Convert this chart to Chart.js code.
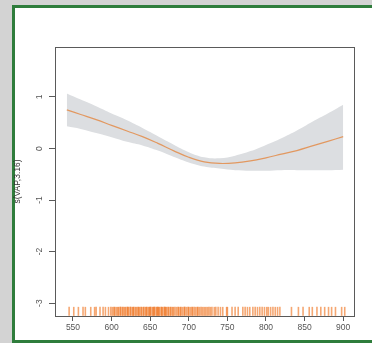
<!DOCTYPE html>
<html>
<head>
<meta charset="utf-8">
<script src="https://cdn.jsdelivr.net/npm/chart.js@4/dist/chart.umd.min.js"></script>
<style>
  html, body { margin: 0; padding: 0; }
  body { width: 372px; height: 343px; background: #d3d3d3; position: relative; overflow: hidden; }
  #frame {
    position: absolute; left: 12px; top: 5px; width: 380px; height: 332px;
    border: 3px solid #2f7d3c; border-right: none; background: #fff;
  }
  #wrap { position: absolute; left: 0; top: 0; width: 372px; height: 343px; }
</style>
</head>
<body>
<div id="frame"></div>
<div id="wrap"><canvas id="smoothPlot"></canvas></div>
<script>
// smooth term s(VAP,3.16) with confidence band
var vap = [542, 560, 580, 600, 620, 640, 660, 680, 700, 720, 740, 760, 780, 800, 820, 840, 860, 880, 900];
var fit = [0.75, 0.66, 0.56, 0.45, 0.34, 0.23, 0.10, -0.04, -0.17, -0.26, -0.29, -0.28, -0.24, -0.18, -0.11, -0.04, 0.05, 0.14, 0.23];
var upper = [1.07, 0.95, 0.82, 0.68, 0.55, 0.40, 0.24, 0.08, -0.07, -0.17, -0.19, -0.14, -0.05, 0.07, 0.20, 0.35, 0.52, 0.68, 0.85];
var lower = [0.43, 0.38, 0.30, 0.22, 0.13, 0.06, -0.04, -0.16, -0.27, -0.35, -0.39, -0.42, -0.43, -0.43, -0.42, -0.42, -0.42, -0.42, -0.41];

// observed VAP values (rug)
var rug = [545, 551, 557, 563, 566, 573, 578, 580, 585, 589, 592, 596,
  599, 601, 603, 604, 606, 608, 609, 611, 612, 614, 615, 617, 618, 620, 621, 622, 624, 625, 627, 628, 629,
  631, 632, 634, 635, 636, 638, 639, 641, 642, 644, 645, 646, 648, 649, 650, 651, 653, 654, 655, 656, 658,
  659, 660, 661, 662, 664, 665, 666, 668, 669, 670, 671, 673, 674, 676, 677, 679, 680, 682, 684, 686, 687,
  689, 690, 692, 694, 695, 697, 699, 700, 702, 704, 705, 707, 709, 711, 712, 714, 716, 718, 720, 722, 724,
  726, 728, 730, 733, 735, 738, 741, 744, 749, 750,
  756, 760, 764, 770, 773, 776, 779, 783, 786, 789, 792, 795, 798, 801, 803, 806, 809, 812, 815, 818,
  833, 842, 848, 856, 860, 866, 871, 876, 881, 885, 890, 898, 902];

var xTicks = [550, 600, 650, 700, 750, 800, 850, 900];
var yTicks = [-3, -2, -1, 0, 1];
var yTitle = 's(VAP,3.16)';
var rugLevel = -3.16;

function pairs(xs, ys) {
    var out = [];
    for (var i = 0; i < xs.length; i++) {
        out.push({x: xs[i], y: ys[i]});
    }
    return out;
}

var tickFont = {family: 'Liberation Sans, Arial, sans-serif', size: 8.5};

// R style: box round the plot and rotated y tick labels
var boxPlugin = {
    id: 'boxPlugin',
    afterDraw: function(chart) {
        var ctx = chart.ctx;
        var a = chart.chartArea;
        ctx.save();
        ctx.strokeStyle = '#5a5a5a';
        ctx.lineWidth = 1;
        ctx.strokeRect(Math.round(a.left) + 0.5, Math.round(a.top) + 0.5,
            Math.round(a.right - a.left), Math.round(a.bottom - a.top));

        var ys = chart.scales.y;
        ctx.fillStyle = '#555';
        ctx.font = '8.5px Liberation Sans, Arial, sans-serif';
        ctx.textAlign = 'center';
        ctx.textBaseline = 'middle';
        yTicks.forEach(function(v) {
            ctx.save();
            ctx.translate(40, ys.getPixelForValue(v));
            ctx.rotate(-Math.PI / 2);
            ctx.fillText(String(v), 0, 0);
            ctx.restore();
        });
        ctx.restore();
    }
};

var ctx = document.getElementById('smoothPlot').getContext('2d');
var chart = new Chart(ctx, {
    type: 'scatter',
    data: {
        datasets: [{
            data: pairs(vap, upper),
            showLine: true,
            borderWidth: 0,
            pointRadius: 0,
            tension: 0.4,
            backgroundColor: 'rgb(220, 222, 225)',
            fill: '+1',
            order: 3
        }, {
            data: pairs(vap, lower),
            showLine: true,
            borderWidth: 0,
            pointRadius: 0,
            tension: 0.4,
            fill: false,
            order: 3
        }, {
            data: pairs(vap, fit),
            showLine: true,
            borderColor: 'rgb(226, 152, 96)',
            borderWidth: 1.2,
            pointRadius: 0,
            tension: 0.4,
            fill: false,
            order: 2
        }, {
            data: rug.map(function(v) { return {x: v, y: rugLevel}; }),
            pointStyle: 'line',
            rotation: 90,
            pointRadius: 4.5,
            borderWidth: 1.6,
            borderColor: 'rgba(238, 108, 20, 0.6)',
            order: 1
        }]
    },
    options: {
        animation: false,
        responsive: true,
        maintainAspectRatio: false,
        layout: {
            padding: {left: 9, top: 47, right: 18, bottom: 0}
        },
        plugins: {
            legend: {display: false},
            tooltip: {enabled: false}
        },
        scales: {
            x: {
                type: 'linear',
                min: 526.7,
                max: 914,
                afterBuildTicks: function(s) {
                    s.ticks = xTicks.map(function(v) { return {value: v}; });
                },
                afterFit: function(s) { s.height = 27; },
                grid: {drawOnChartArea: false, drawTicks: true, tickLength: 5, color: '#5a5a5a'},
                border: {color: '#5a5a5a'},
                ticks: {color: '#555', font: tickFont, padding: 2, maxRotation: 0}
            },
            y: {
                type: 'linear',
                min: -3.25,
                max: 1.97,
                afterBuildTicks: function(s) {
                    s.ticks = yTicks.map(function(v) { return {value: v}; });
                },
                afterFit: function(s) { s.width = 46; },
                grid: {drawOnChartArea: false, drawTicks: true, tickLength: 6, color: '#5a5a5a'},
                border: {color: '#5a5a5a'},
                ticks: {display: false},
                title: {
                    display: true,
                    text: yTitle,
                    color: '#333',
                    font: tickFont,
                    padding: {top: 4, bottom: 0}
                }
            }
        }
    },
    plugins: [boxPlugin]
});
</script>
</body>
</html>
